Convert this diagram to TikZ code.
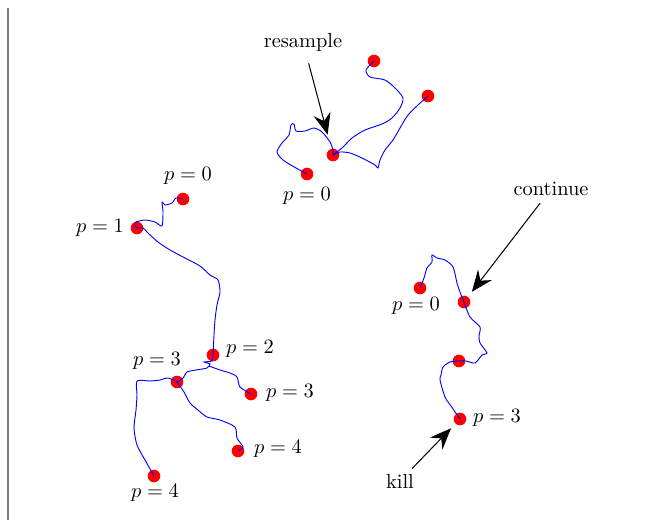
\documentclass[tikz,border=0pt]{standalone}
\usepackage{fontspec}
\usetikzlibrary{arrows.meta}

\begin{document}
\begin{tikzpicture}[x=.49pt,y=-.49pt,
  dot/.style={circle,fill=red,inner sep=0pt,minimum size=6.2pt},
  walk/.style={blue,line width=.45pt},
  big/.style={-{Stealth[length=10.5pt,width=8.5pt,inset=3.6pt]},line width=.5pt},
  lbl/.style={inner sep=1pt}]
\useasboundingbox (0,0) rectangle (657,520);
\draw[gray,line width=.6pt] (8,8)--(8,520);
% top cluster
\node[dot] (A1) at (374,61) {};
\node[dot] (A2) at (428,96) {};
\node[dot] (A3) at (333,155) {};
\node[dot] (A4) at (307,174) {};
\node[lbl] (a4l) at (307,196) {$p=0$};
\node[lbl] (resample) at (303,42) {resample};
% left tree
\node[dot] (B0) at (183,199) {};
\node[dot] (B1) at (137,228) {};
\node[dot] (B2) at (213,355) {};
\node[dot] (B3) at (177,382) {};
\node[dot] (B4) at (251,394) {};
\node[dot] (B5) at (238,451) {};
\node[dot] (B6) at (154,476) {};
\node[lbl] (b0l) at (188,176) {$p=0$};
\node[lbl] (b1l) at (100,228) {$p=1$};
\node[lbl] (b2l) at (250,349) {$p=2$};
\node[lbl] (b3l) at (157,361) {$p=3$};
\node[lbl] (b4l) at (290,393) {$p=3$};
\node[lbl] (b5l) at (278,449) {$p=4$};
\node[lbl] (b6l) at (155,493) {$p=4$};
% right chain
\node[dot] (C1) at (420,288) {};
\node[dot] (C2) at (464,302) {};
\node[dot] (C3) at (459,361) {};
\node[dot] (C4) at (460,419) {};
\node[lbl] (c1l) at (416,306) {$p=0$};
\node[lbl] (c4l) at (497,418) {$p=3$};
\node[lbl] (continue) at (551,189) {continue};
\node[lbl] (kill) at (400,481) {kill};
% walks
\draw[walk] plot[smooth,tension=.45] coordinates {(A4.center) (296,168) (283,160)
  (277,152) (282,143) (289,135) (291,125) (294,124) (296,131) (305,131) (314,128)
  (322,132) (330,142) (333,150) (A3.center)};
\draw[walk] plot[smooth,tension=.45] coordinates {(A3.center) (342,148) (352,138)
  (365,130) (382,124) (392,118) (400,108) (403,98) (395,88) (385,80) (370,77)
  (366,70) (A1.center)};
\draw[walk] plot[smooth,tension=.45] coordinates {(A3.center) (340,152) (350,153)
  (362,158) (375,165) (378,168) (380,160) (385,150) (393,140) (400,128) (408,115)
  (418,105) (A2.center)};
\draw[walk] plot[smooth,tension=.4] coordinates {(B0.center) (176,198) (172,203)
  (165,205) (162,202) (163,212) (162,226) (155,222) (145,220) (136,222) (135,226)
  (B1.center)};
\draw[walk] plot[smooth,tension=.45] coordinates {(B1.center) (143,228) (148,233)
  (158,242) (170,250) (185,258) (200,266) (210,275) (218,280) (220,292) (217,305)
  (215,320) (214,335) (B2.center)};
\draw[walk] plot[smooth,tension=.4] coordinates {(B2.center) (212,361) (204,362)
  (210,364) (207,368) (196,370) (187,372) (183,378) (B3.center)};
\draw[walk] plot[smooth,tension=.45] coordinates {(209,366) (220,370) (230,373)
  (237,377) (240,387) (B4.center)};
\draw[walk] plot[smooth,tension=.45] coordinates {(B3.center) (168,378) (160,380)
  (150,381) (137,381) (137,395) (136,410) (134,428) (137,445) (145,460)
  (B6.center)};
\draw[walk] plot[smooth,tension=.45] coordinates {(B3.center) (184,392) (190,403)
  (198,410) (207,417) (220,420) (235,427) (237,438) (243,447) (B5.center)};
\draw[walk] plot[smooth,tension=.45] coordinates {(C1.center) (424,278) (427,268)
  (432,262) (432,255) (437,258) (445,260) (453,267) (457,283) (460,292)
  (C2.center)};
\draw[walk] plot[smooth,tension=.45] coordinates {(C2.center) (470,317) (480,327)
  (479,336) (480,343) (487,353) (482,355) (475,363) (466,361) (C3.center)};
\draw[walk] plot[smooth,tension=.45] coordinates {(C3.center) (450,362) (443,367)
  (441,375) (440,380) (445,397) (451,406) (C4.center)};
% arrows
\draw[big,shorten <=5pt,shorten >=7pt] (resample) -- (A3);
\draw[big,shorten <=3pt,shorten >=3pt] (continue) -- (C2);
\draw[big,shorten <=2pt,shorten >=3pt] (kill) -- (C4);
\end{tikzpicture}
\end{document}
